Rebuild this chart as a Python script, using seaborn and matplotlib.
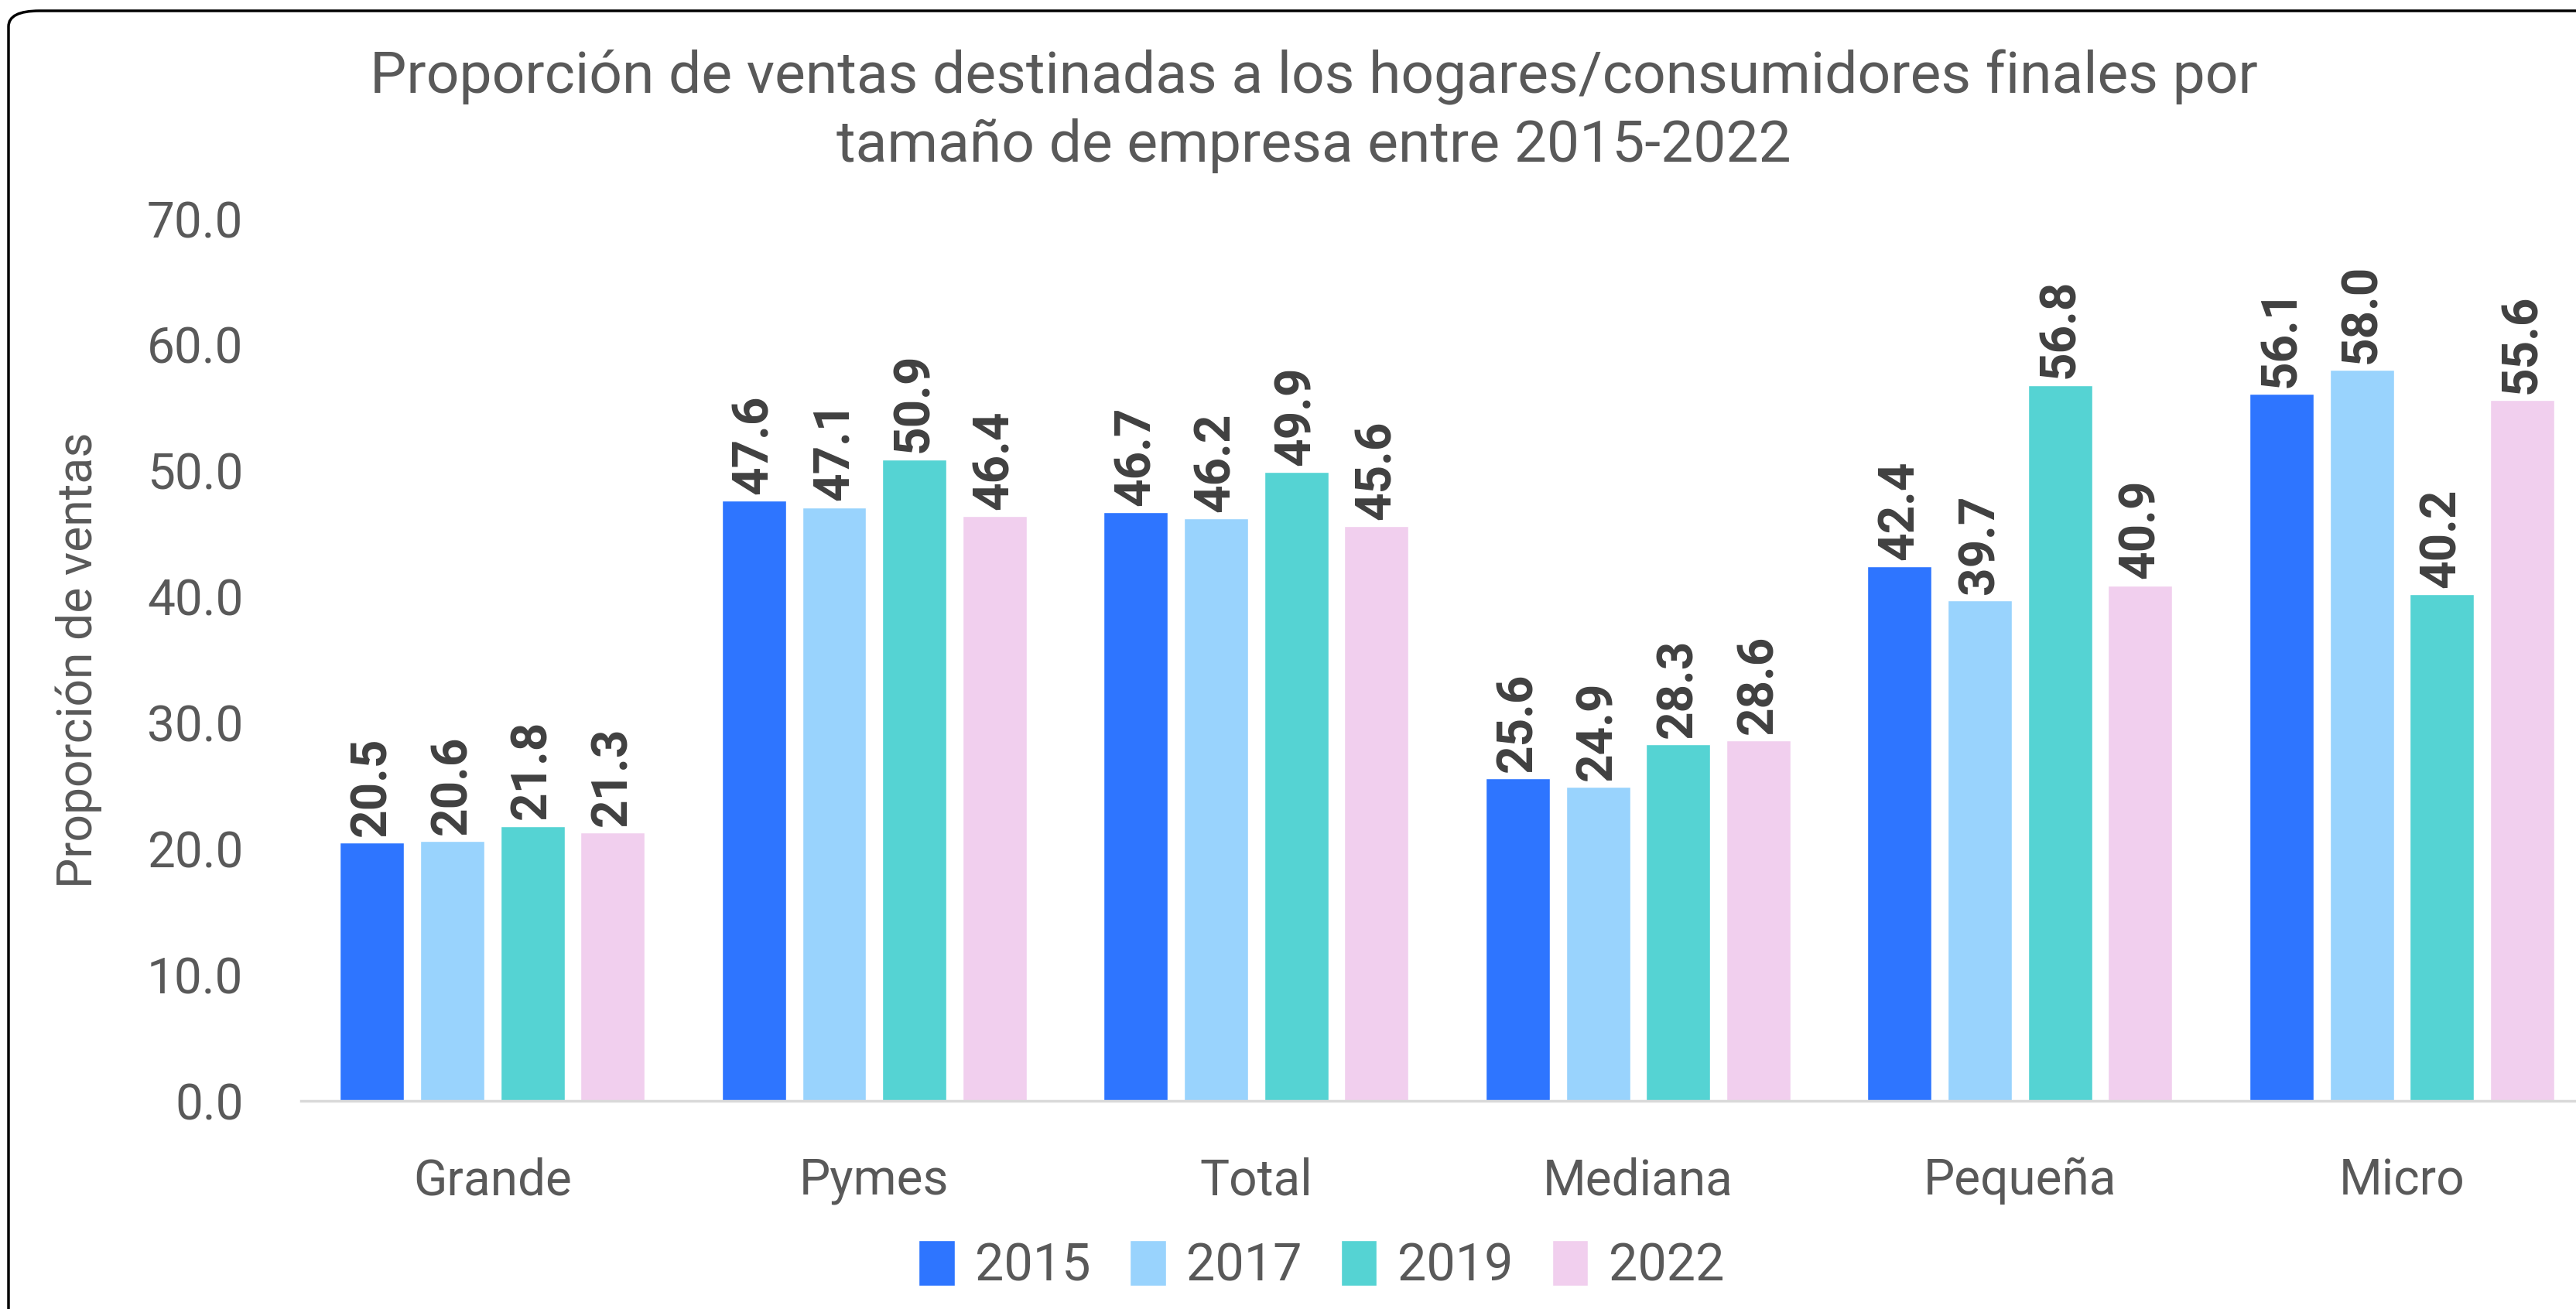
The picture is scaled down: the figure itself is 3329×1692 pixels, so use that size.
import pandas as pd
import seaborn as sns
import matplotlib.pyplot as plt
from matplotlib.patches import FancyBboxPatch

# Data
categorias = ['Grande', 'Pymes', 'Total', 'Mediana', 'Pequeña', 'Micro']
anios = ['2015', '2017', '2019', '2022']
v2015 = [20.5, 47.6, 46.7, 25.6, 42.4, 56.1]
v2017 = [20.6, 47.1, 46.2, 24.9, 39.7, 58.0]
v2019 = [21.8, 50.9, 49.9, 28.3, 56.8, 40.2]
v2022 = [21.3, 46.4, 45.6, 28.6, 40.9, 55.6]
colores = ['#2E75FF', '#99D3FD', '#55D3D3', '#F1CFEE']

series = {'2015': v2015, '2017': v2017, '2019': v2019, '2022': v2022}
rows = []
for anio in anios:
    for cat, val in zip(categorias, series[anio]):
        rows.append({'Tamaño': cat, 'Año': anio, 'Valor': val})
df = pd.DataFrame(rows)

sns.set_style('white')
plt.rcParams['font.family'] = ['Roboto', 'DejaVu Sans']

fig = plt.figure(figsize=(33.29, 16.92), dpi=100)
ax = fig.add_axes([0.117, 0.159, 0.883, 0.674])

sns.barplot(data=df, x='Tamaño', y='Valor', hue='Año', order=categorias,
            hue_order=anios, palette=colores, width=0.84, gap=0.2,
            saturation=1, ax=ax, legend=True)

for cont in ax.containers:
    ax.bar_label(cont, fmt='%.1f', rotation=90, padding=6, fontsize=46,
                 fontweight='bold', color='#404040')

ax.set_ylim(0, 70)
ax.set_xlim(-0.5, 5.456)
ax.set_yticks(range(0, 71, 10))
ax.set_yticklabels([f'{t:.1f}' for t in range(0, 71, 10)])
ax.tick_params(axis='y', labelsize=46, labelcolor='#595959', length=0, pad=54)
ax.tick_params(axis='x', labelsize=46, labelcolor='#595959', length=0, pad=52)
ax.set_xlabel('')
ax.set_ylabel('Proporción de ventas', fontsize=45, color='#595959', labelpad=42)

for side in ['top', 'right', 'left']:
    ax.spines[side].set_visible(False)
ax.spines['bottom'].set_color('#D9D9D9')
ax.spines['bottom'].set_linewidth(2.5)

ax.legend(loc='center', bbox_to_anchor=(0.513, 0.033), bbox_transform=fig.transFigure,
          ncol=4, frameon=False, fontsize=48, labelcolor='#595959',
          handlelength=0.7, handleheight=1.0, handletextpad=0.4, columnspacing=0.75)

fig.text(0.51, 0.915, 'Proporción de ventas destinadas a los hogares/consumidores finales por\n'
         'tamaño de empresa entre 2015-2022', ha='center', va='center',
         fontsize=54, color='#595959', linespacing=1.3)

border = FancyBboxPatch((11 / 3329, -0.05), 1.2, 1.05 - 14 / 1692,
                        boxstyle='round,pad=0,rounding_size=0.012',
                        transform=fig.transFigure, fill=False,
                        edgecolor='black', linewidth=2.5, clip_on=False)
fig.patches.append(border)

fig.savefig('out.png', dpi=100, facecolor='white')
